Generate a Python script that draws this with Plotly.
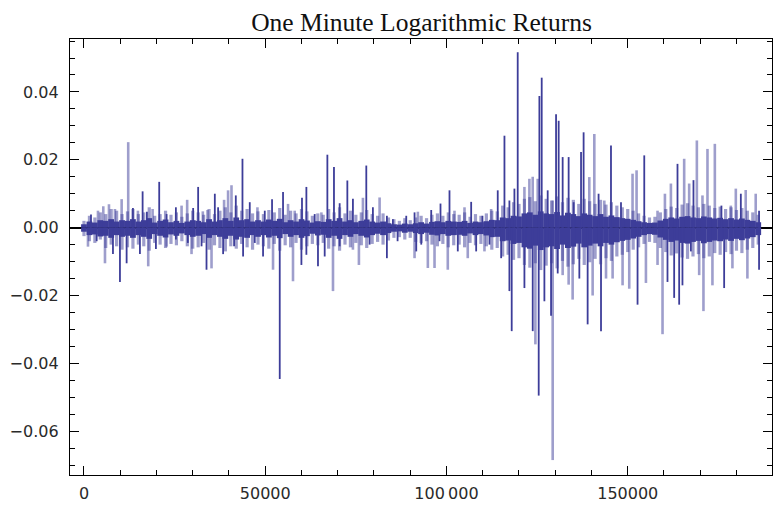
import plotly.graph_objects as go

# ---- data -------------------------------------------------------------
# Observation grid for the dense part of the series (one reading every 1500 minutes)
small_x = list(range(0, 187500, 1500))

# Dense core: typical returns at each grid point
core_up = [0.0010, 0.0018, 0.0015, 0.0022, 0.0020, 0.0025, 0.0018, 0.0022, 0.0020,
           0.0025, 0.0018, 0.0022, 0.0028, 0.0015, 0.0020, 0.0024, 0.0016, 0.0020, 0.0014, 0.0018, 0.0022,
           0.0020, 0.0016, 0.0025, 0.0018, 0.0022, 0.0028, 0.0020, 0.0030, 0.0022, 0.0025, 0.0018, 0.0022,
           0.0018, 0.0024, 0.0020, 0.0026, 0.0016, 0.0022, 0.0018, 0.0025, 0.0021, 0.0015, 0.0019, 0.0017,
           0.0025, 0.0020, 0.0028, 0.0018, 0.0022, 0.0016, 0.0020, 0.0024, 0.0018, 0.0015, 0.0018, 0.0013,
           0.0010, 0.0009, 0.0012, 0.0010, 0.0013, 0.0016, 0.0012, 0.0017, 0.0019, 0.0016, 0.0020, 0.0018,
           0.0017, 0.0020, 0.0014, 0.0018, 0.0016, 0.0019, 0.0023, 0.0022, 0.0030, 0.0028, 0.0035, 0.0033,
           0.0042, 0.0045, 0.0038, 0.0048, 0.0042, 0.0040, 0.0046, 0.0036, 0.0044, 0.0040, 0.0034, 0.0042,
           0.0038, 0.0034, 0.0040, 0.0032, 0.0036, 0.0031, 0.0028, 0.0026, 0.0023, 0.0019, 0.0016, 0.0014,
           0.0015, 0.0021, 0.0026, 0.0030, 0.0027, 0.0032, 0.0034, 0.0030, 0.0028, 0.0033, 0.0030, 0.0027,
           0.0029, 0.0025, 0.0028, 0.0024, 0.0027, 0.0023, 0.0020, 0.0016]
core_dn = [-0.0012, -0.0022, -0.0020, -0.0026, -0.0024, -0.0030, -0.0022, -0.0027, -0.0024,
           -0.0030, -0.0022, -0.0027, -0.0033, -0.0019, -0.0024, -0.0029, -0.0020, -0.0024, -0.0017, -0.0022, -0.0027,
           -0.0024, -0.0019, -0.0030, -0.0022, -0.0027, -0.0033, -0.0024, -0.0035, -0.0027, -0.0030, -0.0022, -0.0027,
           -0.0022, -0.0029, -0.0024, -0.0031, -0.0019, -0.0027, -0.0022, -0.0030, -0.0025, -0.0018, -0.0023, -0.0021,
           -0.0030, -0.0024, -0.0033, -0.0022, -0.0027, -0.0019, -0.0024, -0.0029, -0.0022, -0.0018, -0.0022, -0.0016,
           -0.0012, -0.0011, -0.0015, -0.0012, -0.0016, -0.0019, -0.0015, -0.0021, -0.0023, -0.0019, -0.0024, -0.0022,
           -0.0021, -0.0024, -0.0017, -0.0022, -0.0019, -0.0023, -0.0028, -0.0027, -0.0040, -0.0038, -0.0048, -0.0045,
           -0.0058, -0.0062, -0.0053, -0.0066, -0.0058, -0.0055, -0.0063, -0.0050, -0.0060, -0.0056, -0.0047, -0.0058,
           -0.0053, -0.0047, -0.0055, -0.0045, -0.0050, -0.0043, -0.0039, -0.0036, -0.0032, -0.0027, -0.0022, -0.0019,
           -0.0021, -0.0029, -0.0036, -0.0042, -0.0038, -0.0045, -0.0047, -0.0042, -0.0039, -0.0046, -0.0042, -0.0038,
           -0.0040, -0.0035, -0.0039, -0.0033, -0.0037, -0.0032, -0.0028, -0.0022]

# Smaller returns around the core at each grid point
small_up = [0.0020, 0.0035, 0.0030, 0.0045, 0.0040, 0.0055, 0.0050, 0.0040, 0.0048,
            0.0055, 0.0040, 0.0045, 0.0060, 0.0035, 0.0040, 0.0050, 0.0038, 0.0045, 0.0032, 0.0042, 0.0050,
            0.0045, 0.0038, 0.0055, 0.0040, 0.0050, 0.0060, 0.0045, 0.0065, 0.0050, 0.0055, 0.0042, 0.0048,
            0.0040, 0.0052, 0.0045, 0.0058, 0.0038, 0.0050, 0.0042, 0.0055, 0.0048, 0.0035, 0.0042, 0.0038,
            0.0055, 0.0045, 0.0060, 0.0042, 0.0050, 0.0038, 0.0045, 0.0052, 0.0040, 0.0035, 0.0042, 0.0030,
            0.0025, 0.0020, 0.0028, 0.0022, 0.0030, 0.0035, 0.0028, 0.0038, 0.0042, 0.0035, 0.0045, 0.0040,
            0.0038, 0.0045, 0.0032, 0.0040, 0.0035, 0.0042, 0.0050, 0.0048, 0.0065, 0.0060, 0.0075, 0.0070,
            0.0085, 0.0090, 0.0078, 0.0095, 0.0085, 0.0080, 0.0092, 0.0075, 0.0088, 0.0082, 0.0070, 0.0085,
            0.0078, 0.0070, 0.0082, 0.0068, 0.0075, 0.0065, 0.0060, 0.0055, 0.0050, 0.0042, 0.0035, 0.0030,
            0.0032, 0.0045, 0.0055, 0.0062, 0.0058, 0.0068, 0.0072, 0.0065, 0.0060, 0.0070, 0.0065, 0.0058,
            0.0062, 0.0055, 0.0060, 0.0052, 0.0058, 0.0050, 0.0045, 0.0038]
small_dn = [-0.0025, -0.0040, -0.0045, -0.0035, -0.0060, -0.0050, -0.0055, -0.0065, -0.0058,
            -0.0062, -0.0050, -0.0055, -0.0068, -0.0045, -0.0050, -0.0060, -0.0048, -0.0052, -0.0040, -0.0055, -0.0062,
            -0.0058, -0.0045, -0.0065, -0.0052, -0.0060, -0.0070, -0.0055, -0.0062, -0.0048, -0.0058, -0.0065, -0.0050,
            -0.0055, -0.0062, -0.0048, -0.0068, -0.0052, -0.0058, -0.0045, -0.0065, -0.0055, -0.0048, -0.0052, -0.0045,
            -0.0062, -0.0055, -0.0068, -0.0050, -0.0058, -0.0045, -0.0052, -0.0060, -0.0048, -0.0042, -0.0050, -0.0038,
            -0.0030, -0.0028, -0.0035, -0.0030, -0.0042, -0.0045, -0.0040, -0.0050, -0.0055, -0.0048, -0.0058, -0.0052,
            -0.0050, -0.0058, -0.0045, -0.0052, -0.0048, -0.0055, -0.0065, -0.0060, -0.0085, -0.0080, -0.0095, -0.0090,
            -0.0110, -0.0118, -0.0105, -0.0125, -0.0112, -0.0105, -0.0120, -0.0098, -0.0115, -0.0108, -0.0092, -0.0110,
            -0.0102, -0.0092, -0.0108, -0.0090, -0.0098, -0.0085, -0.0080, -0.0072, -0.0065, -0.0058, -0.0048, -0.0042,
            -0.0045, -0.0060, -0.0072, -0.0082, -0.0076, -0.0088, -0.0092, -0.0085, -0.0078, -0.0090, -0.0085, -0.0075,
            -0.0080, -0.0072, -0.0078, -0.0068, -0.0075, -0.0065, -0.0060, -0.0050]

# Isolated large returns: (observation index, return), drawn as solid lines
dark_x = [1930, 13500, 16170, 17360, 20750, 22780, 25350, 30110, 31490, 36090,
          37000, 41880, 43720, 45730, 49870, 51880, 54910, 60140, 61350, 63640,
          67140, 68960, 70530, 72650, 74190, 77880, 79700, 83560, 85210, 88900,
          91190, 95790, 98350, 100830, 106810, 109920, 114140, 115990, 117360, 118740,
          119650, 125630, 126270, 127920, 130230, 130950, 132050, 133700, 135080, 137120,
          137830, 141960, 145380, 148140, 154560, 163730, 168140, 175850, 181200, 186230,
          3500, 7990, 9920, 11760, 15430, 19840, 25350, 28650, 32430, 33800,
          38380, 41410, 43890, 47110, 49400, 54000, 59980, 61350, 64550, 66400,
          70530, 78790, 83560, 86510, 91660, 93040, 98080, 103120, 108190, 111860,
          115080, 117360, 117990, 119650, 121500, 123790, 125440, 127010, 128850, 130680,
          136650, 138940, 142630, 152710, 160970, 162810, 164190, 165100, 167420, 176600,
          186230]
dark_y = [0.0039, 0.0058, 0.0107, 0.0047, 0.0135, 0.0040, 0.0060, 0.0058, 0.0120, 0.0100,
          0.0060, 0.0095, 0.0203, 0.0075, 0.0050, 0.0084, 0.0105, 0.0088, 0.0120, 0.0040,
          0.0215, 0.0179, 0.0072, 0.0139, 0.0085, 0.0183, 0.0060, 0.0035, 0.0025, 0.0035,
          0.0045, 0.0052, 0.0071, 0.0110, 0.0076, 0.0035, 0.0110, 0.0271, 0.0080, 0.0115,
          0.0517, 0.0388, 0.0442, 0.0110, 0.0334, 0.0315, 0.0208, 0.0208, 0.0075, 0.0223,
          0.0281, 0.0100, 0.0242, 0.0075, 0.0213, 0.0188, 0.0140, 0.0065, 0.0100, 0.0050,
          -0.0040, -0.0078, -0.0160, -0.0105, -0.0078, -0.0063, -0.0035, -0.0045, -0.0055, -0.0124,
          -0.0078, -0.0055, -0.0085, -0.0045, -0.0085, -0.0446, -0.0110, -0.0080, -0.0114, -0.0085,
          -0.0055, -0.0050, -0.0090, -0.0040, -0.0070, -0.0050, -0.0040, -0.0070, -0.0070, -0.0050,
          -0.0090, -0.0187, -0.0305, -0.0040, -0.0178, -0.0305, -0.0495, -0.0217, -0.0260, -0.0135,
          -0.0150, -0.0285, -0.0305, -0.0227, -0.0160, -0.0207, -0.0227, -0.0170, -0.0070, -0.0178,
          -0.0124]

# Large returns shown only through the translucent filling
light_x = [3860, 5320, 6890, 8540, 10390, 12200, 14880, 18930, 26920, 28460,
           32780, 34080, 38650, 39750, 40690, 47850, 56290, 58130, 65490, 76950,
           81550, 92100, 102210, 104970, 112320, 121500, 122870, 123790, 125170, 129300,
           139400, 140780, 143540, 151330, 152440, 158220, 160260, 161910, 165570, 166950,
           169070, 170620, 172000, 174030, 178440, 179820, 182550, 185310,
           1100, 5790, 17720, 22780, 29670, 35180, 52150, 57660, 68690, 74190,
           75840, 91190, 94860, 96700, 100360, 105870, 110480, 124530, 129300, 132050,
           133700, 134800, 140320, 144010, 145830, 148580, 150420, 155020, 158220, 159600,
           169710, 170890, 173370, 178880, 183010]
light_y = [0.0050, 0.0063, 0.0069, 0.0055, 0.0084, 0.0252, 0.0050, 0.0055, 0.0065, 0.0082,
           0.0048, 0.0052, 0.0082, 0.0110, 0.0125, 0.0060, 0.0070, 0.0050, 0.0045, 0.0088,
           0.0089, 0.0047, 0.0050, 0.0060, 0.0055, 0.0120, 0.0144, 0.0150, 0.0144, 0.0080,
           0.0149, 0.0276, 0.0080, 0.0159, 0.0169, 0.0050, 0.0100, 0.0130, 0.0203, 0.0130,
           0.0257, 0.0095, 0.0232, 0.0247, 0.0065, 0.0115, 0.0111, 0.0100,
           -0.0056, -0.0105, -0.0114, -0.0056, -0.0078, -0.0120, -0.0124, -0.0158, -0.0187, -0.0065,
           -0.0110, -0.0090, -0.0119, -0.0119, -0.0124, -0.0090, -0.0070, -0.0344, -0.0685, -0.0140,
           -0.0168, -0.0212, -0.0200, -0.0150, -0.0150, -0.0170, -0.0180, -0.0163, -0.0110, -0.0314,
           -0.0140, -0.0246, -0.0170, -0.0120, -0.0150]

# Axis ticks
x_tickvals = [0, 50000, 100000, 150000]
x_ticktext = ["0", "50000", "100\u2009000", "150000"]
y_tickvals = [-0.06, -0.04, -0.02, 0.0, 0.02, 0.04]
y_ticktext = ["\u22120.06", "\u22120.04", "\u22120.02", "0.00", "0.02", "0.04"]

LINE = "rgb(61,61,153)"
FILL = "rgba(61,61,153,0.5)"


def stems(xs, ys):
    """Vertical segments from the zero line to each value."""
    sx, sy = [], []
    for x, y in zip(xs, ys):
        sx += [x, x, None]
        sy += [0, y, None]
    return sx, sy


fig = go.Figure()

# small returns, translucent
sx, sy = stems(small_x + small_x, small_up + small_dn)
fig.add_trace(go.Scatter(x=sx, y=sy, mode="lines", line=dict(color=FILL, width=3.2),
                         hoverinfo="skip", showlegend=False))

# translucent spikes
lx, ly = stems(light_x, light_y)
fig.add_trace(go.Scatter(x=lx, y=ly, mode="lines", line=dict(color=FILL, width=2.6),
                         hoverinfo="skip", showlegend=False))

# dense core
cx, cy = stems(small_x + small_x, core_up + core_dn)
fig.add_trace(go.Scatter(x=cx, y=cy, mode="lines", line=dict(color=LINE, width=5.8),
                         hoverinfo="skip", showlegend=False))

# solid spikes
dx, dy = stems(dark_x, dark_y)
fig.add_trace(go.Scatter(x=dx, y=dy, mode="lines", line=dict(color=LINE, width=1.8),
                         hoverinfo="skip", showlegend=False))

tick_font = dict(family="DejaVu Sans", size=16, color="#2a2a2a")

fig.update_layout(
    width=775, height=505,
    margin=dict(l=70, r=2, t=39, b=27),
    paper_bgcolor="white", plot_bgcolor="white",
    title=dict(text="One Minute Logarithmic Returns",
               font=dict(family="Liberation Serif", size=25.5, color="#111"),
               x=421.5 / 775, xanchor="center", y=1 - 22 / 505, yanchor="middle"),
    xaxis=dict(range=[-3860, 189800], showgrid=False, zeroline=False,
               showline=True, linecolor="black", linewidth=1.4, mirror="ticks",
               ticks="inside", ticklen=9, tickwidth=1.2, tickcolor="black",
               tickvals=x_tickvals, ticktext=x_ticktext, tickfont=tick_font,
               ticklabelstandoff=4,
               minor=dict(ticks="inside", ticklen=5, tickwidth=1.2, tickcolor="black",
                          dtick=10000, tick0=0, showgrid=False)),
    yaxis=dict(range=[-0.0729, 0.0556], showgrid=False,
               zeroline=True, zerolinecolor="black", zerolinewidth=1.6,
               showline=True, linecolor="black", linewidth=1.4, mirror="ticks",
               ticks="inside", ticklen=9, tickwidth=1.2, tickcolor="black",
               tickvals=y_tickvals, ticktext=y_ticktext, tickfont=tick_font,
               ticklabelstandoff=7,
               minor=dict(ticks="inside", ticklen=5, tickwidth=1.2, tickcolor="black",
                          dtick=0.005, tick0=0, showgrid=False)),
)

fig.write_html("out.html")
